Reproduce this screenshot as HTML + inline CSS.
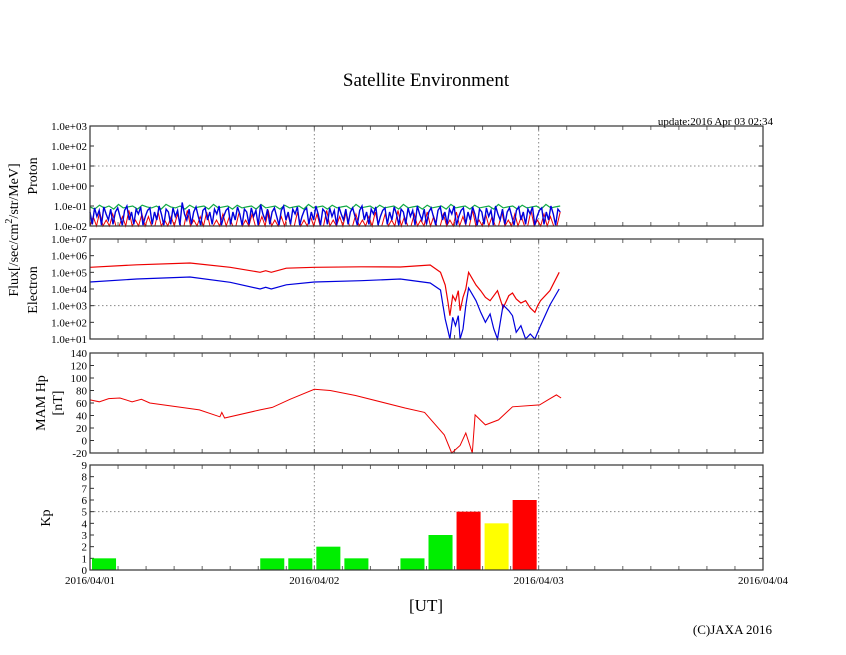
<!DOCTYPE html>
<html><head><meta charset="utf-8"><style>
body{margin:0;background:#fff}
svg{display:block;font-family:"Liberation Serif",serif}
</style></head><body>
<svg id="c" width="846" height="655">
<text x="426" y="86" font-size="19" text-anchor="middle">Satellite Environment</text>
<text x="773" y="125" font-size="11" text-anchor="end">update:2016 Apr 03 02:34</text>
<text transform="translate(18,230) rotate(-90)" font-size="14" text-anchor="middle">Flux[/sec/cm<tspan font-size="10" dy="-6">2</tspan><tspan dy="6">/str/MeV]</tspan></text>
<text transform="translate(37,176) rotate(-90)" font-size="14" text-anchor="middle">Proton</text>
<text transform="translate(37,290) rotate(-90)" font-size="14" text-anchor="middle">Electron</text>
<text transform="translate(45,403) rotate(-90)" font-size="14" text-anchor="middle">MAM Hp</text>
<text transform="translate(62,403) rotate(-90)" font-size="14" text-anchor="middle">[nT]</text>
<text transform="translate(50,518) rotate(-90)" font-size="14" text-anchor="middle">Kp</text>
<text x="426" y="611" font-size="17" text-anchor="middle">[UT]</text>
<text x="772" y="634" font-size="13" text-anchor="end">(C)JAXA 2016</text>
<g id="g"></g>
</svg>
<script>
const xTickLabels=["2016/04/01","2016/04/02","2016/04/03","2016/04/04"];
const protonTicks=["1.0e+03","1.0e+02","1.0e+01","1.0e+00","1.0e-01","1.0e-02"];
const electronTicks=["1.0e+07","1.0e+06","1.0e+05","1.0e+04","1.0e+03","1.0e+02","1.0e+01"];
const mamTicks=[140,120,100,80,60,40,20,0,-20];
const kpTicks=[9,8,7,6,5,4,3,2,1,0];
const protonEndHour=50.3;
const protonBlue=[0.05,0.012,0.08,0.03,0.06,0.011,0.09,0.04,0.02,0.07,0.012,0.05,0.08,0.03,0.011,0.06,0.1,0.02,0.05,0.012,0.07,0.04,0.09,0.011,0.03,0.06,0.08,0.012,0.05,0.02,0.1,0.04,0.011,0.07,0.05,0.012,0.08,0.03,0.06,0.011,0.15,0.04,0.02,0.07,0.012,0.05,0.09,0.03,0.011,0.06,0.08,0.02,0.05,0.012,0.07,0.04,0.1,0.011,0.03,0.06,0.08,0.012,0.05,0.02,0.09,0.04,0.011,0.07,0.05,0.012,0.08,0.03,0.06,0.011,0.12,0.04,0.02,0.07,0.012,0.05,0.08,0.03,0.011,0.06,0.1,0.02,0.05,0.012,0.07,0.04,0.09,0.011,0.03,0.06,0.08,0.012,0.05,0.02,0.1,0.04,0.011,0.07,0.05,0.012,0.08,0.03,0.06,0.011,0.09,0.04,0.02,0.07,0.012,0.05,0.08,0.03,0.011,0.06,0.1,0.02,0.05,0.012,0.07,0.04,0.09,0.011,0.03,0.06,0.08,0.012,0.05,0.02,0.09,0.04,0.011,0.07,0.05,0.012,0.08,0.03,0.06,0.011,0.1,0.04,0.02,0.07,0.012,0.05,0.08,0.03,0.011,0.06,0.09,0.02,0.05,0.012,0.07,0.04,0.1,0.011,0.03,0.06,0.08,0.012,0.05,0.02,0.09,0.04,0.011,0.07,0.05,0.012,0.08,0.03,0.06,0.011,0.1,0.04,0.02,0.07,0.012,0.05,0.08,0.03,0.011,0.06,0.09,0.02,0.05,0.012,0.07,0.04,0.09,0.011,0.03,0.06,0.08,0.012,0.05,0.02,0.1,0.04,0.011,0.07,0.05];
const protonGreen=[0.09,0.07,0.11,0.08,0.1,0.07,0.12,0.08,0.09,0.1,0.07,0.11,0.09,0.08,0.1,0.07,0.12,0.09,0.08,0.1,0.07,0.11,0.08,0.09,0.1,0.07,0.12,0.08,0.09,0.1,0.07,0.11,0.08,0.09,0.1,0.07,0.12,0.08,0.09,0.1,0.07,0.11,0.08,0.09,0.1,0.07,0.12,0.08,0.09,0.1,0.07,0.11,0.08,0.09,0.1,0.07,0.12,0.08,0.09,0.1,0.07,0.11,0.08,0.09,0.1,0.07,0.12,0.08,0.09,0.1,0.07,0.11,0.08,0.09,0.1,0.07,0.12,0.08,0.09,0.1,0.07,0.11,0.08,0.09,0.1,0.07,0.12,0.08,0.09,0.1,0.07,0.11,0.08,0.09,0.1,0.07,0.12,0.08,0.09,0.1];
const protonRed=[0.01,0.03,0.01,0.05,0.01,0.02,0.01,0.04,0.01,0.01,0.03,0.01,0.06,0.01,0.02,0.01,0.04,0.01,0.03,0.01,0.01,0.05,0.01,0.02,0.01,0.03,0.01,0.04,0.01,0.01,0.06,0.01,0.02,0.01,0.03,0.01,0.05,0.01,0.01,0.02,0.01,0.04,0.01,0.03,0.01,0.01,0.05,0.01,0.02,0.01,0.04,0.01,0.01,0.03,0.01,0.06,0.01,0.02,0.01,0.03,0.01,0.04,0.01,0.01,0.05,0.01,0.02,0.01,0.03,0.01,0.04,0.01,0.01,0.06,0.01,0.02,0.01,0.03,0.01,0.05,0.01,0.01,0.04,0.01,0.02,0.01,0.03,0.01,0.05,0.01,0.01,0.04,0.01,0.02,0.01,0.06,0.01,0.03,0.01,0.01,0.04,0.01,0.02,0.01,0.05,0.01,0.03,0.01,0.01,0.04,0.01,0.02,0.01,0.05,0.01,0.03,0.01,0.01,0.06,0.01,0.02,0.01,0.04,0.01,0.03,0.01,0.01,0.05,0.01,0.02,0.01,0.04,0.01,0.03,0.01,0.01,0.06,0.01,0.02,0.01,0.04,0.01,0.03,0.01,0.01,0.05];
const elecHours=[0,5,10.7,15,18.2,18.8,19.4,21,24,29,33.2,36.4,37.5,38,38.3,38.5,38.8,39.1,39.4,39.6,39.9,40.2,40.5,41.3,41.8,42.3,42.8,43.2,43.6,44.2,44.8,45.2,45.6,46.1,46.6,47.1,47.6,47.9,48.2,49.2,50.2];
const elecRed=[5.3,5.45,5.56,5.3,5.0,5.1,5.0,5.25,5.3,5.33,5.32,5.44,5.0,4.24,3.2,2.4,3.6,3.3,3.9,2.7,3.5,4.0,5.0,4.24,3.9,3.5,3.3,3.6,3.9,2.86,3.6,3.76,3.4,3.16,3.3,2.86,2.6,3.0,3.3,3.9,5.0];
const elecBlue=[4.42,4.6,4.72,4.4,4.0,4.1,4.0,4.25,4.42,4.5,4.6,4.36,3.94,2.2,1.5,1.0,2.3,1.8,2.4,1.0,1.6,3.0,4.06,3.3,2.6,2.0,2.5,1.6,1.0,3.04,2.7,2.4,1.4,1.8,1.0,1.3,1.0,1.4,1.8,3.04,4.0];
const mamHours=[0,1,2,3.2,4.5,5.5,6.4,11.7,13.9,14.1,14.4,18.2,19.5,21.4,24,25.7,28.4,33.7,35.8,37.9,38.7,39.6,40.2,40.9,41.2,42.3,43.7,45.2,48.1,49.1,49.9,50.4];
const mamValues=[65,62,67,68,62,66,60,49,38,45,36,49,53,66,82,80,72,52,45,9,-20,-8,12,-20,41,25,33,54,57,66,73,68];
const kpValues=[1,0,0,0,0,0,1,1,2,1,0,1,3,5,4,6];

const svg=document.getElementById('g');const NS='http://www.w3.org/2000/svg';
const X0=90,X1=763;
const xs=h=>X0+(X1-X0)*h/72;
function el(t,a,txt){const e=document.createElementNS(NS,t);for(const k in a)e.setAttribute(k,a[k]);if(txt!==undefined)e.textContent=txt;svg.appendChild(e);return e;}
const panels={p:[126,226],e:[239,339],m:[353,453],k:[465,570]};
function frame(name,top,bot,ticks,hGrid){
  [24,48].forEach(h=>{const l=el('line',{x1:xs(h),x2:xs(h),y1:top,y2:bot,stroke:'#888','stroke-dasharray':'1.5,2.5'});
    });
  if(hGrid!==null){const l=el('line',{x1:X0,x2:X1,y1:hGrid,y2:hGrid,stroke:'#888','stroke-dasharray':'1.5,2.5'});
    }
  const n=ticks.length;
  ticks.forEach((t,i)=>{const y=top+(bot-top)*i/(n-1);
    const tx=el('text',{x:X0-3,y:y+4,'font-size':11,'text-anchor':'end'},t);
    
    el('line',{x1:X0,x2:X0+4,y1:y,y2:y,stroke:'#333'});el('line',{x1:X1-4,x2:X1,y1:y,y2:y,stroke:'#333'});});
  for(let h=3;h<72;h+=3){el('line',{x1:xs(h),x2:xs(h),y1:bot-4,y2:bot,stroke:'#666'});el('line',{x1:xs(h),x2:xs(h),y1:top,y2:top+4,stroke:'#666'});}
}
function border(name,top,bot){const r=el('rect',{x:X0,y:top,width:X1-X0,height:bot-top,fill:'none',stroke:'#333','stroke-width':1.2});
  }
function line(name,hours,vals,yf,color,w){const pts=hours.map((h,i)=>xs(h).toFixed(1)+','+yf(vals[i]).toFixed(1)).join(' ');
  const p=el('polyline',{points:pts,fill:'none',stroke:color,'stroke-width':w||1});
  }
const hoursFor=arr=>arr.map((_,i)=>i*protonEndHour/(arr.length-1));

let [pt,pb]=panels.p;const yP=v=>Math.min(pb,pt+(3-Math.log10(v))*(pb-pt)/5);
frame('proton',pt,pb,protonTicks,yP(10));
line('proton-red-series',hoursFor(protonRed),protonRed,yP,'#e00',1);
line('proton-green-series',hoursFor(protonGreen),protonGreen,yP,'#1a4',1.2);
line('proton-blue-series',hoursFor(protonBlue),protonBlue,yP,'#00d',1.4);
border('proton',pt,pb);
let [et,eb]=panels.e;const yE=v=>Math.min(eb,et+(7-v)*(eb-et)/6);
frame('electron',et,eb,electronTicks,yE(3));
line('electron-red-series',elecHours,elecRed,yE,'#e00',1.2);
line('electron-blue-series',elecHours,elecBlue,yE,'#00d',1.2);
border('electron',et,eb);
let [mt,mb]=panels.m;const yM=v=>mt+(140-v)*(mb-mt)/160;
frame('mam',mt,mb,mamTicks,null);
line('mam-hp-series',mamHours,mamValues,yM,'#e00',1);
border('mam',mt,mb);
let [kt,kb]=panels.k;const yK=v=>kb-v*(kb-kt)/9;
frame('kp',kt,kb,kpTicks,yK(5));
kpValues.forEach((v,i)=>{if(v<=0)return;const c=v>=5?'#f00':v>=4?'#ff0':'#0e0';
  const r=el('rect',{x:xs(i*3)+2,y:yK(v),width:xs(3)-xs(0)-4,height:kb-yK(v),fill:c});
  });
border('kp',kt,kb);
xTickLabels.forEach((t,i)=>{const tx=el('text',{x:xs(i*24),y:584,'font-size':11,'text-anchor':'middle'},t);
  });
</script>
</body></html>
